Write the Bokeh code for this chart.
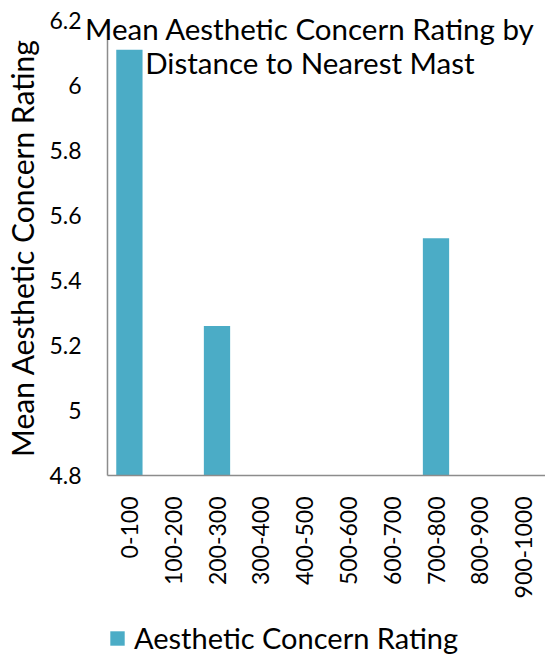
from bokeh.plotting import figure
from bokeh.layouts import column
from bokeh.core.properties import value
from bokeh.models import (FactorRange, Range1d, FixedTicker, Legend, LegendItem,
                          CustomJSTickFormatter, ColumnDataSource)
from bokeh.embed import file_html
from bokeh.resources import INLINE

# Distance bands (metres) to the nearest mast
categories = ["0-100", "100-200", "200-300", "300-400", "400-500",
              "500-600", "600-700", "700-800", "800-900", "900-1000"]

# Bands that have a mean rating
rated_bands = ["0-100", "200-300", "700-800"]
mean_ratings = [6.11, 5.26, 5.53]

y_ticks = [4.8, 5.0, 5.2, 5.4, 5.6, 5.8, 6.0, 6.2]
y_min, y_max = 4.8, 6.2

series_name = "Aesthetic Concern Rating"
title_lines = ["Mean Aesthetic Concern Rating by", "Distance to Nearest Mast"]

FONT = "Lato"
BAR = "#4BACC6"
AXIS = "#8c8c8c"

src = ColumnDataSource(dict(band=rated_bands, rating=mean_ratings,
                            base=[y_min] * len(rated_bands)))

p = figure(x_range=FactorRange(*categories), y_range=Range1d(y_min, y_max),
           width=545, height=605, output_backend="svg", toolbar_location=None,
           min_border_left=107, min_border_right=0, min_border_top=20,
           min_border_bottom=130)

bars = p.vbar(x="band", top="rating", bottom="base", width=0.6, source=src,
              fill_color=BAR, line_color=None)

p.outline_line_color = None
p.xgrid.visible = False
p.ygrid.visible = False

# y axis
ya = p.yaxis[0]
ya.ticker = FixedTicker(ticks=y_ticks)
ya.formatter = CustomJSTickFormatter(code="return String(Number(tick.toFixed(1)));")
ya.axis_label = "Mean Aesthetic Concern Rating"
ya.axis_label_text_font = FONT
ya.axis_label_text_font_size = "30px"
ya.axis_label_text_font_style = "normal"
ya.axis_label_text_color = "black"
ya.axis_label_standoff = 6
ya.major_label_text_font = FONT
ya.major_label_text_font_size = "23px"
ya.major_label_text_color = "black"
ya.major_label_standoff = 20
ya.major_tick_line_color = None
ya.minor_tick_line_color = None
ya.axis_line_color = AXIS
ya.axis_line_width = 1.5

# x axis with vertical band labels
xa = p.xaxis[0]
xa.major_label_orientation = 3.14159265 / 2
xa.major_label_text_font = FONT
xa.major_label_text_font_size = "23px"
xa.major_label_text_color = "black"
xa.major_label_standoff = 15
xa.major_tick_line_color = None
xa.axis_line_color = AXIS
xa.axis_line_width = 1.5

# two-line title overlapping the top of the plot area (drawn on the overlay
# level so the first letter may run past the y axis)
title_src = ColumnDataSource(dict(x=[4.62, 4.62], y=[6.176, 6.071], t=title_lines))
p.text(x="x", y="y", text="t", source=title_src, text_align="center",
       text_baseline="middle", text_font=value(FONT), text_font_size="29.5px",
       text_color="black", level="overlay")

# legend strip under the chart; its swatch renderer shares the bar data but
# lies well below this strip's y range, so only the legend itself shows
lf = figure(width=545, height=50, output_backend="svg", toolbar_location=None,
            x_range=FactorRange(*categories), y_range=Range1d(20, 21), min_border=0,
            min_border_left=100, min_border_right=0)
lf.axis.visible = False
lf.grid.visible = False
lf.outline_line_color = None
swatch = lf.vbar(x="band", top="rating", bottom="base", width=0.6, source=src,
                 fill_color=BAR, line_color=None)
legend = Legend(items=[LegendItem(label=series_name, renderers=[swatch])],
                orientation="horizontal", location=(1, 0),
                border_line_color=None, background_fill_alpha=0,
                glyph_width=18, glyph_height=18, label_standoff=8,
                label_text_font=FONT, label_text_font_size="29px",
                label_text_color="black", margin=0, padding=0)
lf.add_layout(legend)

open("out.html", "w").write(file_html(column(p, lf, spacing=0), INLINE))
